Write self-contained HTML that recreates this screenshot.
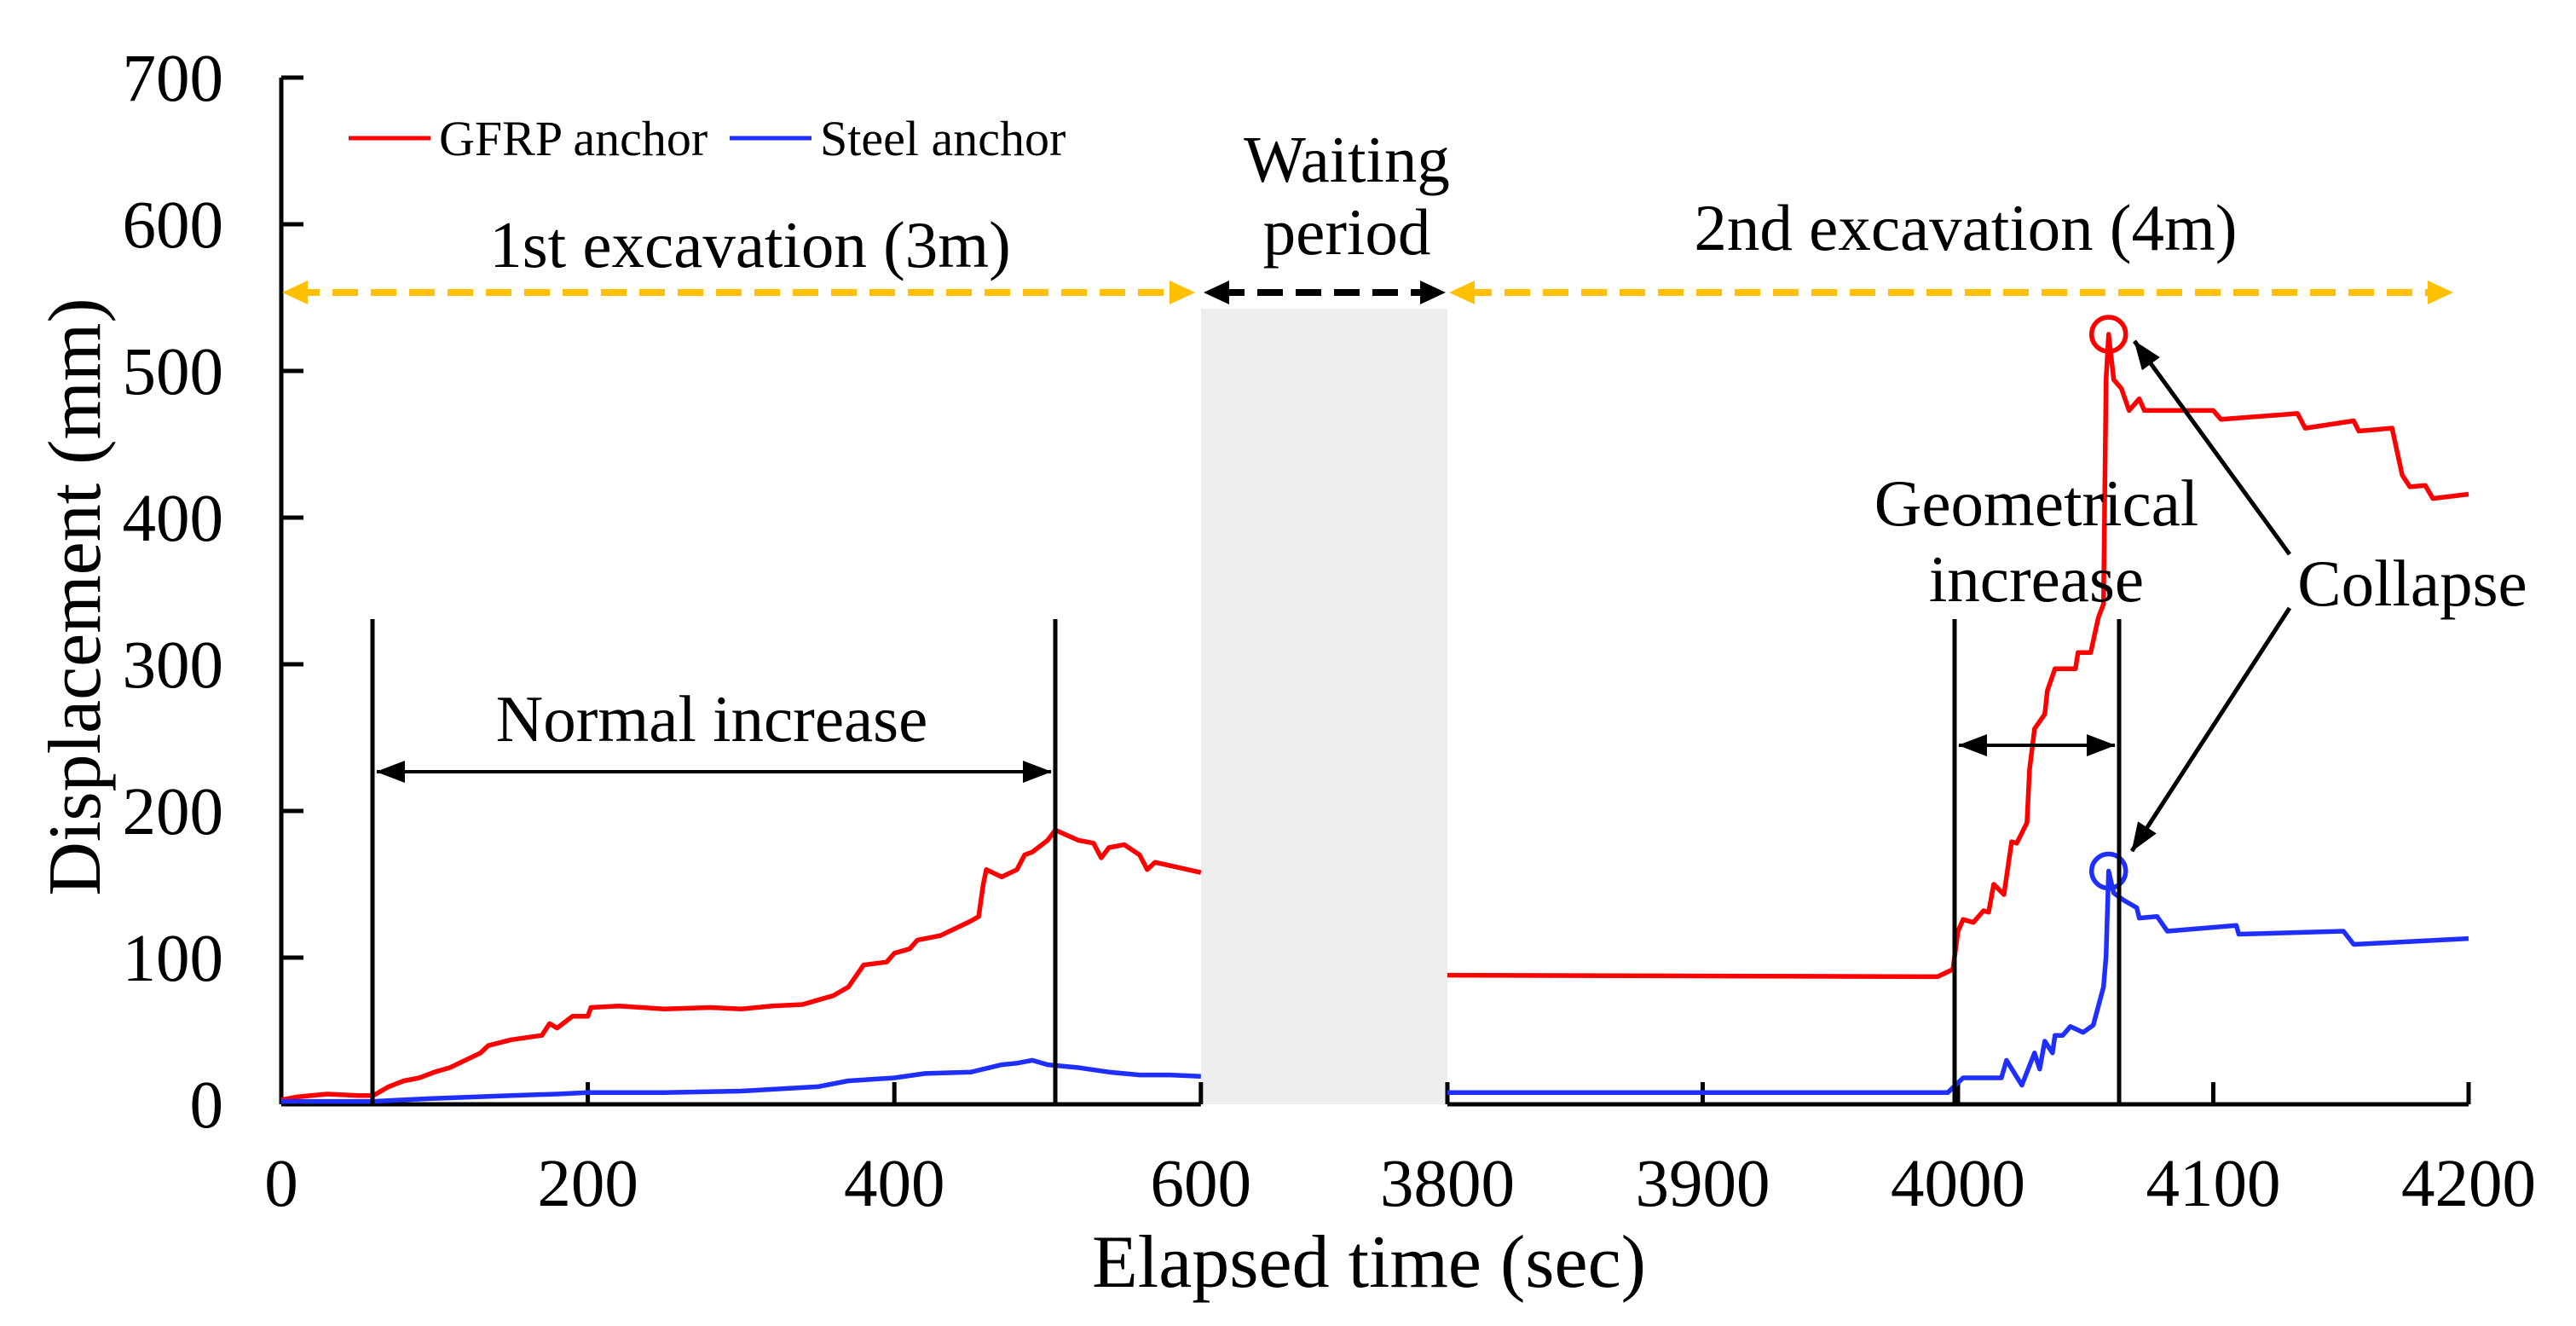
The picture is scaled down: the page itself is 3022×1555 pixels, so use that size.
<!DOCTYPE html>
<html><head><meta charset="utf-8"><style>
html,body{margin:0;padding:0;background:#fff;}
svg{display:block;font-family:"Liberation Serif",serif;}
</style></head><body>
<svg id="chart" width="3022" height="1555" viewBox="0 0 3022 1555">
<defs>
<marker id="ab" markerWidth="34" markerHeight="26" refX="33" refY="13" orient="auto-start-reverse" markerUnits="userSpaceOnUse" viewBox="0 0 34 26"><path d="M0,0 L34,13 L0,26 z" fill="#000"/></marker>
</defs>
<rect x="1409" y="362" width="289" height="933" fill="#eeeeee"/>
<g id="axes"></g>
<g id="series"></g>
<g id="annot">
  <text x="1606" y="1509" font-size="88" text-anchor="middle">Elapsed time (sec)</text>
  <text transform="translate(117,700) rotate(-90)" font-size="88" text-anchor="middle">Displacement (mm)</text>
  <line x1="409" y1="162" x2="505" y2="162" stroke="#ff0000" stroke-width="5"/>
  <text x="515" y="182" font-size="58">GFRP anchor</text>
  <line x1="856" y1="162" x2="952" y2="162" stroke="#1f2fff" stroke-width="5"/>
  <text x="962" y="182" font-size="58">Steel anchor</text>
  <text x="880" y="313" font-size="77" text-anchor="middle">1st excavation (3m)</text>
  <text x="1580" y="213" font-size="77" text-anchor="middle">Waiting</text>
  <text x="1580" y="298" font-size="77" text-anchor="middle">period</text>
  <text x="2306" y="293" font-size="77" text-anchor="middle">2nd excavation (4m)</text>
  <line x1="345" y1="343" x2="1385" y2="343" stroke="#ffc000" stroke-width="8" stroke-dasharray="30,15"/>
  <path d="M331,343 L361,329 L361,357 z M1402,343 L1372,329 L1372,357 z" fill="#ffc000"/>
  <line x1="1430" y1="343" x2="1675" y2="343" stroke="#000" stroke-width="8" stroke-dasharray="30,15"/>
  <path d="M1412,343 L1442,329 L1442,357 z M1696,343 L1666,329 L1666,357 z" fill="#000"/>
  <line x1="1720" y1="343" x2="2855" y2="343" stroke="#ffc000" stroke-width="8" stroke-dasharray="30,15"/>
  <path d="M1700,343 L1730,329 L1730,357 z M2878,343 L2848,329 L2848,357 z" fill="#ffc000"/>
  <line x1="437" y1="726" x2="437" y2="1295" stroke="#000" stroke-width="5"/>
  <line x1="1238" y1="726" x2="1238" y2="1295" stroke="#000" stroke-width="5"/>
  <line x1="442" y1="905" x2="1233" y2="905" stroke="#000" stroke-width="4" marker-start="url(#ab)" marker-end="url(#ab)"/>
  <text x="835" y="869" font-size="77" text-anchor="middle">Normal increase</text>
  <line x1="2293" y1="726" x2="2293" y2="1295" stroke="#000" stroke-width="5"/>
  <line x1="2486" y1="726" x2="2486" y2="1295" stroke="#000" stroke-width="5"/>
  <line x1="2298" y1="874" x2="2481" y2="874" stroke="#000" stroke-width="4" marker-start="url(#ab)" marker-end="url(#ab)"/>
  <text x="2389" y="616" font-size="77" text-anchor="middle">Geometrical</text>
  <text x="2389" y="705" font-size="77" text-anchor="middle">increase</text>
  <text x="2830" y="710" font-size="77" text-anchor="middle">Collapse</text>
  <line x1="2686" y1="650" x2="2504" y2="400" stroke="#000" stroke-width="5" marker-end="url(#ab)"/>
  <line x1="2686" y1="713" x2="2501" y2="998" stroke="#000" stroke-width="5" marker-end="url(#ab)"/>
</g>
<script>
const leftT = [0,10,30,50,60,70,80,90,100,110,120,130,135,150,170,175,180,190,200,202,220,250,280,300,320,340,360,370,380,395,400,410,415,430,440,450,455,458,460,470,480,485,490,500,505,520,530,535,540,550,560,565,570,600];
const leftRed = [3,5,7,6,6,12,16,18,22,25,30,35,40,44,47,55,52,60,60,66,67,65,66,65,67,68,74,80,95,97,103,106,112,115,120,125,128,150,160,155,160,170,172,180,187,180,178,168,175,177,170,160,165,158];
const leftBlueT = [0,50,60,80,100,150,180,200,250,300,350,370,400,420,450,470,480,490,500,520,540,560,580,600];
const leftBlue = [2,2,2,3,4,6,7,8,8,9,12,16,18,21,22,27,28,30,27,25,22,20,20,19];
const rightRedT = [3800,3992,3998,4000,4002,4006,4010,4012,4014,4018,4021,4023,4027,4028,4030,4034,4035,4038,4046,4047,4052,4055,4057,4058,4059,4061,4064,4067,4071,4073,4100,4103,4133,4136,4155,4157,4170,4174,4177,4183,4186,4200];
const rightRed = [88,87,92,118,126,124,132,131,150,143,179,178,192,228,256,266,282,297,297,308,308,332,341,494,525,494,488,473,481,473,473,467,471,461,466,459,461,429,421,422,413,416];
const rightBlueT = [3800,3996,4002,4017,4019,4025,4030,4032,4034,4037,4038,4041,4044,4049,4053,4057,4058,4059,4061,4065,4070,4071,4078,4082,4109,4110,4151,4155,4200];
const rightBlue = [8,8,18,18,30,13,35,24,43,35,47,47,53,49,54,80,101,159,144,139,134,127,128,118,122,116,118,109,113];
const yTicks = [0,100,200,300,400,500,600,700];
const xTicksLeft = [0,200,400,600];
const xTicksRight = [3800,3900,4000,4100,4200];
const peakT = 4059, peakRed = 525, peakBlue = 159;

const NS = "http://www.w3.org/2000/svg";
const sxL = t => 330 + t * 1.798;
const sxR = t => 1698 + (t - 3800) * 2.995;
const sy = v => 1295 - v * 1.72;
function mk(tag, attrs, parent){ const e=document.createElementNS(NS,tag); for(const k in attrs) e.setAttribute(k,attrs[k]); parent.appendChild(e); return e; }
const axes = document.getElementById('axes');
const series = document.getElementById('series');
let e = mk('line',{x1:330,y1:sy(700),x2:330,y2:sy(0),stroke:'#000','stroke-width':5},axes);


e = mk('line',{x1:330,y1:sy(0),x2:sxL(600),y2:sy(0),stroke:'#000','stroke-width':5},axes);


e = mk('line',{x1:sxR(3800),y1:sy(0),x2:sxR(4200),y2:sy(0),stroke:'#000','stroke-width':5},axes);


yTicks.forEach(v=>{
  mk('line',{x1:330,y1:sy(v),x2:356,y2:sy(v),stroke:'#000','stroke-width':5},axes);
  const t = mk('text',{x:262,y:sy(v)+27,'font-size':79,'text-anchor':'end'},axes);
  t.textContent = v;
  
  
});
function xt(list, sx){
  list.forEach(v=>{
    mk('line',{x1:sx(v),y1:sy(0),x2:sx(v),y2:sy(0)-26,stroke:'#000','stroke-width':5},axes);
    const t = mk('text',{x:sx(v),y:1414,'font-size':79,'text-anchor':'middle'},axes);
    t.textContent = v;
    
    
  });
}
xt(xTicksLeft, sxL); xt(xTicksRight, sxR);
function line(ts, vs, sx, color, name){
  const d = ts.map((t,i)=>(i?'L':'M')+sx(t).toFixed(1)+','+sy(vs[i]).toFixed(1)).join(' ');
  const p = mk('path',{d:d,fill:'none',stroke:color,'stroke-width':5.5,'stroke-linejoin':'round'},series);
  
  
}
line(leftT,leftRed,sxL,'#ff0000','gfrp-line-first');
line(leftBlueT,leftBlue,sxL,'#1f2fff','steel-line-first');
line(rightRedT,rightRed,sxR,'#ff0000','gfrp-line-second');
line(rightBlueT,rightBlue,sxR,'#1f2fff','steel-line-second');
let c = mk('circle',{cx:sxR(peakT),cy:sy(peakRed),r:20,fill:'none',stroke:'#ff0000','stroke-width':5.5},series);


c = mk('circle',{cx:sxR(peakT),cy:sy(peakBlue),r:20,fill:'none',stroke:'#1f2fff','stroke-width':5.5},series);


</script>
</svg>
</body></html>
